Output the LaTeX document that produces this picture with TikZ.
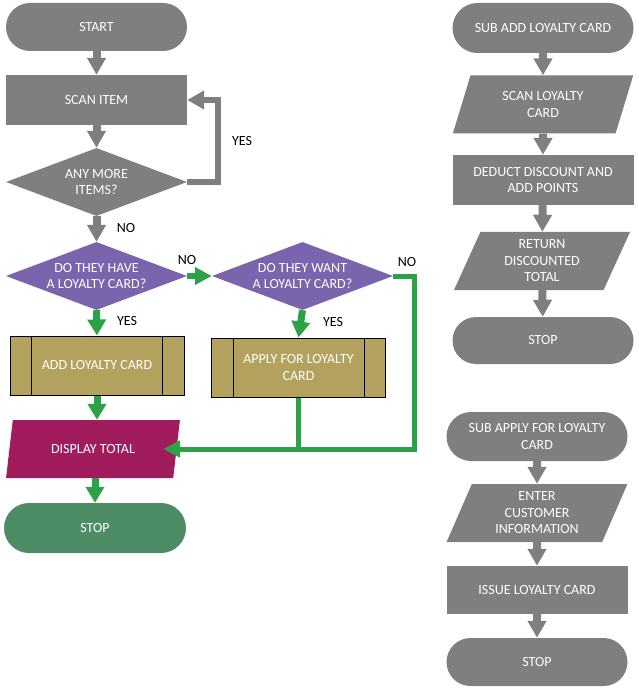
\documentclass[tikz,border=0pt]{standalone}
\usepackage{fontspec}
\setmainfont{Carlito}
\usetikzlibrary{shapes.geometric,arrows.meta}
\definecolor{gfill}{HTML}{7F7F7F}
\definecolor{purp}{HTML}{7B64AE}
\definecolor{olive}{HTML}{B3A25E}
\definecolor{mag}{HTML}{A11C5C}
\definecolor{stopg}{HTML}{4D8D66}
\definecolor{arrg}{HTML}{2BA148}
\begin{document}
\begin{tikzpicture}[x=1pt,y=-1pt,font=\fontsize{14}{16.5}\selectfont,
  base/.style={text=white,align=center,inner sep=0pt},
  term/.style={base,fill=gfill,rectangle,minimum width=181pt,minimum height=48pt,rounded corners=24pt},
  proc/.style={base,fill=gfill,rectangle,minimum width=181pt,minimum height=50pt},
  io/.style={base,fill=gfill,trapezium,trapezium left angle=69,trapezium right angle=111,trapezium stretches=true,minimum width=181pt,minimum height=58pt},
  dec/.style={base,fill=gfill,diamond,shape aspect=2.7,inner xsep=-8pt,inner ysep=-2pt,minimum width=181pt,minimum height=68pt},
  pre/.style={base,fill=olive,draw=black,line width=1pt,rectangle,minimum width=174pt,minimum height=59pt},
  lbl/.style={text=black,inner sep=0pt},
  garr/.style={draw=gfill,line width=8pt,-{Triangle[width=18pt,length=17pt]}},
  grarr/.style={draw=arrg,line width=7pt,-{Triangle[width=18pt,length=16pt]}},
  grline/.style={draw=arrg,line width=5pt,line join=miter}]
\useasboundingbox (0,0) rectangle (638,692);
% left main flow
\node[term] (start) at (96.5,27) {START};
\node[proc] (scan) at (96.5,100) {SCAN ITEM};
\node[dec] (more) at (96.5,182) {ANY MORE\\ITEMS?};
\node[dec,fill=purp] (have) at (96.5,276) {DO THEY HAVE\\A LOYALTY CARD?};
\node[dec,fill=purp] (want) at (302.5,276) {DO THEY WANT\\A LOYALTY CARD?};
\node[pre] (addc) at (97,365.5) {ADD LOYALTY CARD};
\node[pre] (apply) at (298.5,367.5) {APPLY FOR LOYALTY\\CARD};
\node[io,fill=mag,minimum width=174pt] (disp) at (93,449) {DISPLAY TOTAL};
\node[term,fill=stopg,minimum width=182pt,minimum height=50pt,rounded corners=25pt] (stop1) at (95,528) {STOP};
\foreach \n in {addc,apply}{
  \draw[black,line width=1pt] ([xshift=22pt]\n.north west) -- ([xshift=22pt]\n.south west);
  \draw[black,line width=1pt] ([xshift=-22pt]\n.north east) -- ([xshift=-22pt]\n.south east);
}
\draw[garr] (start) -- (scan);
\draw[garr] (scan) -- (more);
\draw[garr] (more) -- (have);
\coordinate (l1) at (218,182);
\coordinate (l2) at (218,100);
\draw[draw=gfill,line width=6.5pt,-{Triangle[width=18pt,length=17pt]}] (more.east) -- (l1) -- (l2) -- (scan.east);
\node[lbl] (yes1) at (242,141) {YES};
\node[lbl] (no1) at (126,228) {NO};
\draw[grarr,line width=6pt,-{Triangle[width=17pt,length=17pt]}] (have.east) -- (want.west);
\node[lbl] (no2) at (187,260) {NO};
\draw[grarr] (have.south) -- (addc.north);
\node[lbl] (yes2) at (127,321) {YES};
\draw[grarr] (want.south) -- (apply.north);
\node[lbl] (yes3) at (333,322) {YES};
\node[lbl] (no3) at (407,262) {NO};
\coordinate (r1) at (414,276);
\coordinate (r2) at (414,449);
\coordinate (j1) at (298.5,449);
\coordinate (dtip) at (163,449);
\draw[grline,-{Triangle[width=16pt,length=17pt]}] (want.east) -- (r1) -- (r2) -- (dtip);
\draw[grline] (apply.south) -- (j1);
\draw[grarr] (addc.south) -- (disp.north -| addc.south);
\draw[grarr] (disp.south -| stop1.north) -- (stop1.north);
% right top flow
\node[term,minimum height=50pt,rounded corners=25pt] (sub1) at (543,28) {SUB ADD LOYALTY CARD};
\node[io] (scl) at (543,104.5) {SCAN LOYALTY\\CARD};
\node[proc] (ded) at (543,180) {DEDUCT DISCOUNT AND\\ADD POINTS};
\node[io,minimum width=176pt] (ret) at (542,261) {RETURN\\DISCOUNTED\\TOTAL};
\node[term,minimum height=47pt,rounded corners=23.5pt] (stop2) at (543,340.5) {STOP};
\draw[garr] (sub1) -- (scl);
\draw[garr] (scl) -- (ded);
\draw[garr] (ded) -- (ret);
\draw[garr] (ret) -- (stop2);
% right bottom flow
\node[term,minimum height=49pt,rounded corners=24.5pt] (sub2) at (537,436.5) {SUB APPLY FOR LOYALTY\\CARD};
\node[io] (ent) at (537,513) {ENTER\\CUSTOMER\\INFORMATION};
\node[proc,minimum height=48pt] (iss) at (537,590) {ISSUE LOYALTY CARD};
\node[term] (stop3) at (537,662) {STOP};
\draw[garr] (sub2) -- (ent);
\draw[garr] (ent) -- (iss);
\draw[garr] (iss) -- (stop3);
\end{tikzpicture}
\end{document}
